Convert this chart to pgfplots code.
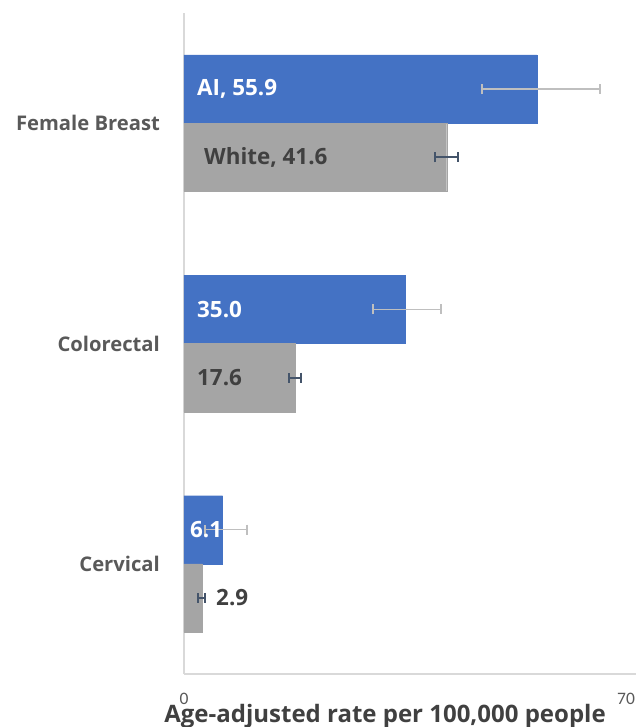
\documentclass[border=0pt]{standalone}
\usepackage{pgfplots}
\pgfplotsset{compat=1.18}
\usepackage{fontspec}
\setmainfont{Open Sans}
\newfontfamily\tickfont{Carlito}
\definecolor{aiblue}{HTML}{4472C4}
\definecolor{whgray}{HTML}{A5A5A5}
\definecolor{axgray}{HTML}{D9D9D9}
\definecolor{labgray}{HTML}{595959}
\definecolor{dkgray}{HTML}{404040}
\definecolor{errlight}{HTML}{BFBFBF}
\definecolor{errdark}{HTML}{44546A}
\pgfplotstableread{
y x xp xm
0 6.1 3.9 2.8
1 35.0 5.7 5.1
2 55.9 10.0 8.7
}\aidata
\pgfplotstableread{
y x xp xm
0 2.9 0.4 0.7
1 17.6 0.9 1.0
2 41.6 1.8 1.9
}\whdata
\begin{document}
\begin{tikzpicture}
\begin{axis}[
  scale only axis,
  width=451.5pt, height=661pt,
  xbar, bar width=0.31,
  xmin=0, xmax=71.5,
  ymin=-0.5, ymax=2.5,
  axis lines*=left,
  axis line style={axgray, line width=1.5pt},
  xtick={0,70},
  xticklabels={0,70},
  ytick={0,1,2},
  yticklabels={Cervical,Colorectal,Female Breast},
  major tick length=0pt,
  tick style={draw=none},
  yticklabel style={font=\bfseries\fontsize{20.2}{23}\selectfont, text=labgray, anchor=east, inner sep=0pt, xshift=-24pt},
  xticklabel style={font=\tickfont\fontsize{17.5}{20}\selectfont, text=labgray, anchor=center, inner sep=0pt, yshift=-24.5pt},
  xlabel={Age-adjusted rate per 100,000 people},
  xlabel style={font=\bfseries\fontsize{24}{28}\selectfont, text=dkgray, at={(rel axis cs:0.4452,0)}, anchor=base, yshift=-48pt, inner sep=0pt},
  clip=false,
]
\addplot[fill=aiblue, draw=aiblue, line width=0.05pt, bar shift=0.155,
  error bars/.cd, x dir=both, x explicit, error mark=|,
  error bar style={draw=errlight, line width=1.5pt},
  error mark options={draw=errlight, line width=1.5pt, mark size=5pt}]
  table[x=x, y=y, x error plus=xp, x error minus=xm] {\aidata};
\addplot[fill=whgray, draw=whgray, line width=0.05pt, bar shift=-0.155,
  error bars/.cd, x dir=both, x explicit, error mark=|,
  error bar style={draw=errdark, line width=1.8pt},
  error mark options={draw=errdark, line width=1.8pt, mark size=5pt}]
  table[x=x, y=y, x error plus=xp, x error minus=xm] {\whdata};
\begin{scope}[every node/.style={font=\bfseries\fontsize{22.4}{26}\selectfont, anchor=west, inner sep=0pt}]
\node[text=white] at (axis cs:2.06,2.155) {AI, 55.9};
\node[text=dkgray] at (axis cs:3.17,1.845) {White, 41.6};
\node[text=white] at (axis cs:2.06,1.155) {35.0};
\node[text=dkgray] at (axis cs:2.06,0.845) {17.6};
\node[text=white] at (axis cs:0.95,0.155) {6.1};
\node[text=dkgray] at (axis cs:5.07,-0.155) {2.9};
\end{scope}
\end{axis}
\pgfresetboundingbox
\path[use as bounding box] (-184pt,-53pt) rectangle (451pt,674pt);
\end{tikzpicture}
\end{document}
